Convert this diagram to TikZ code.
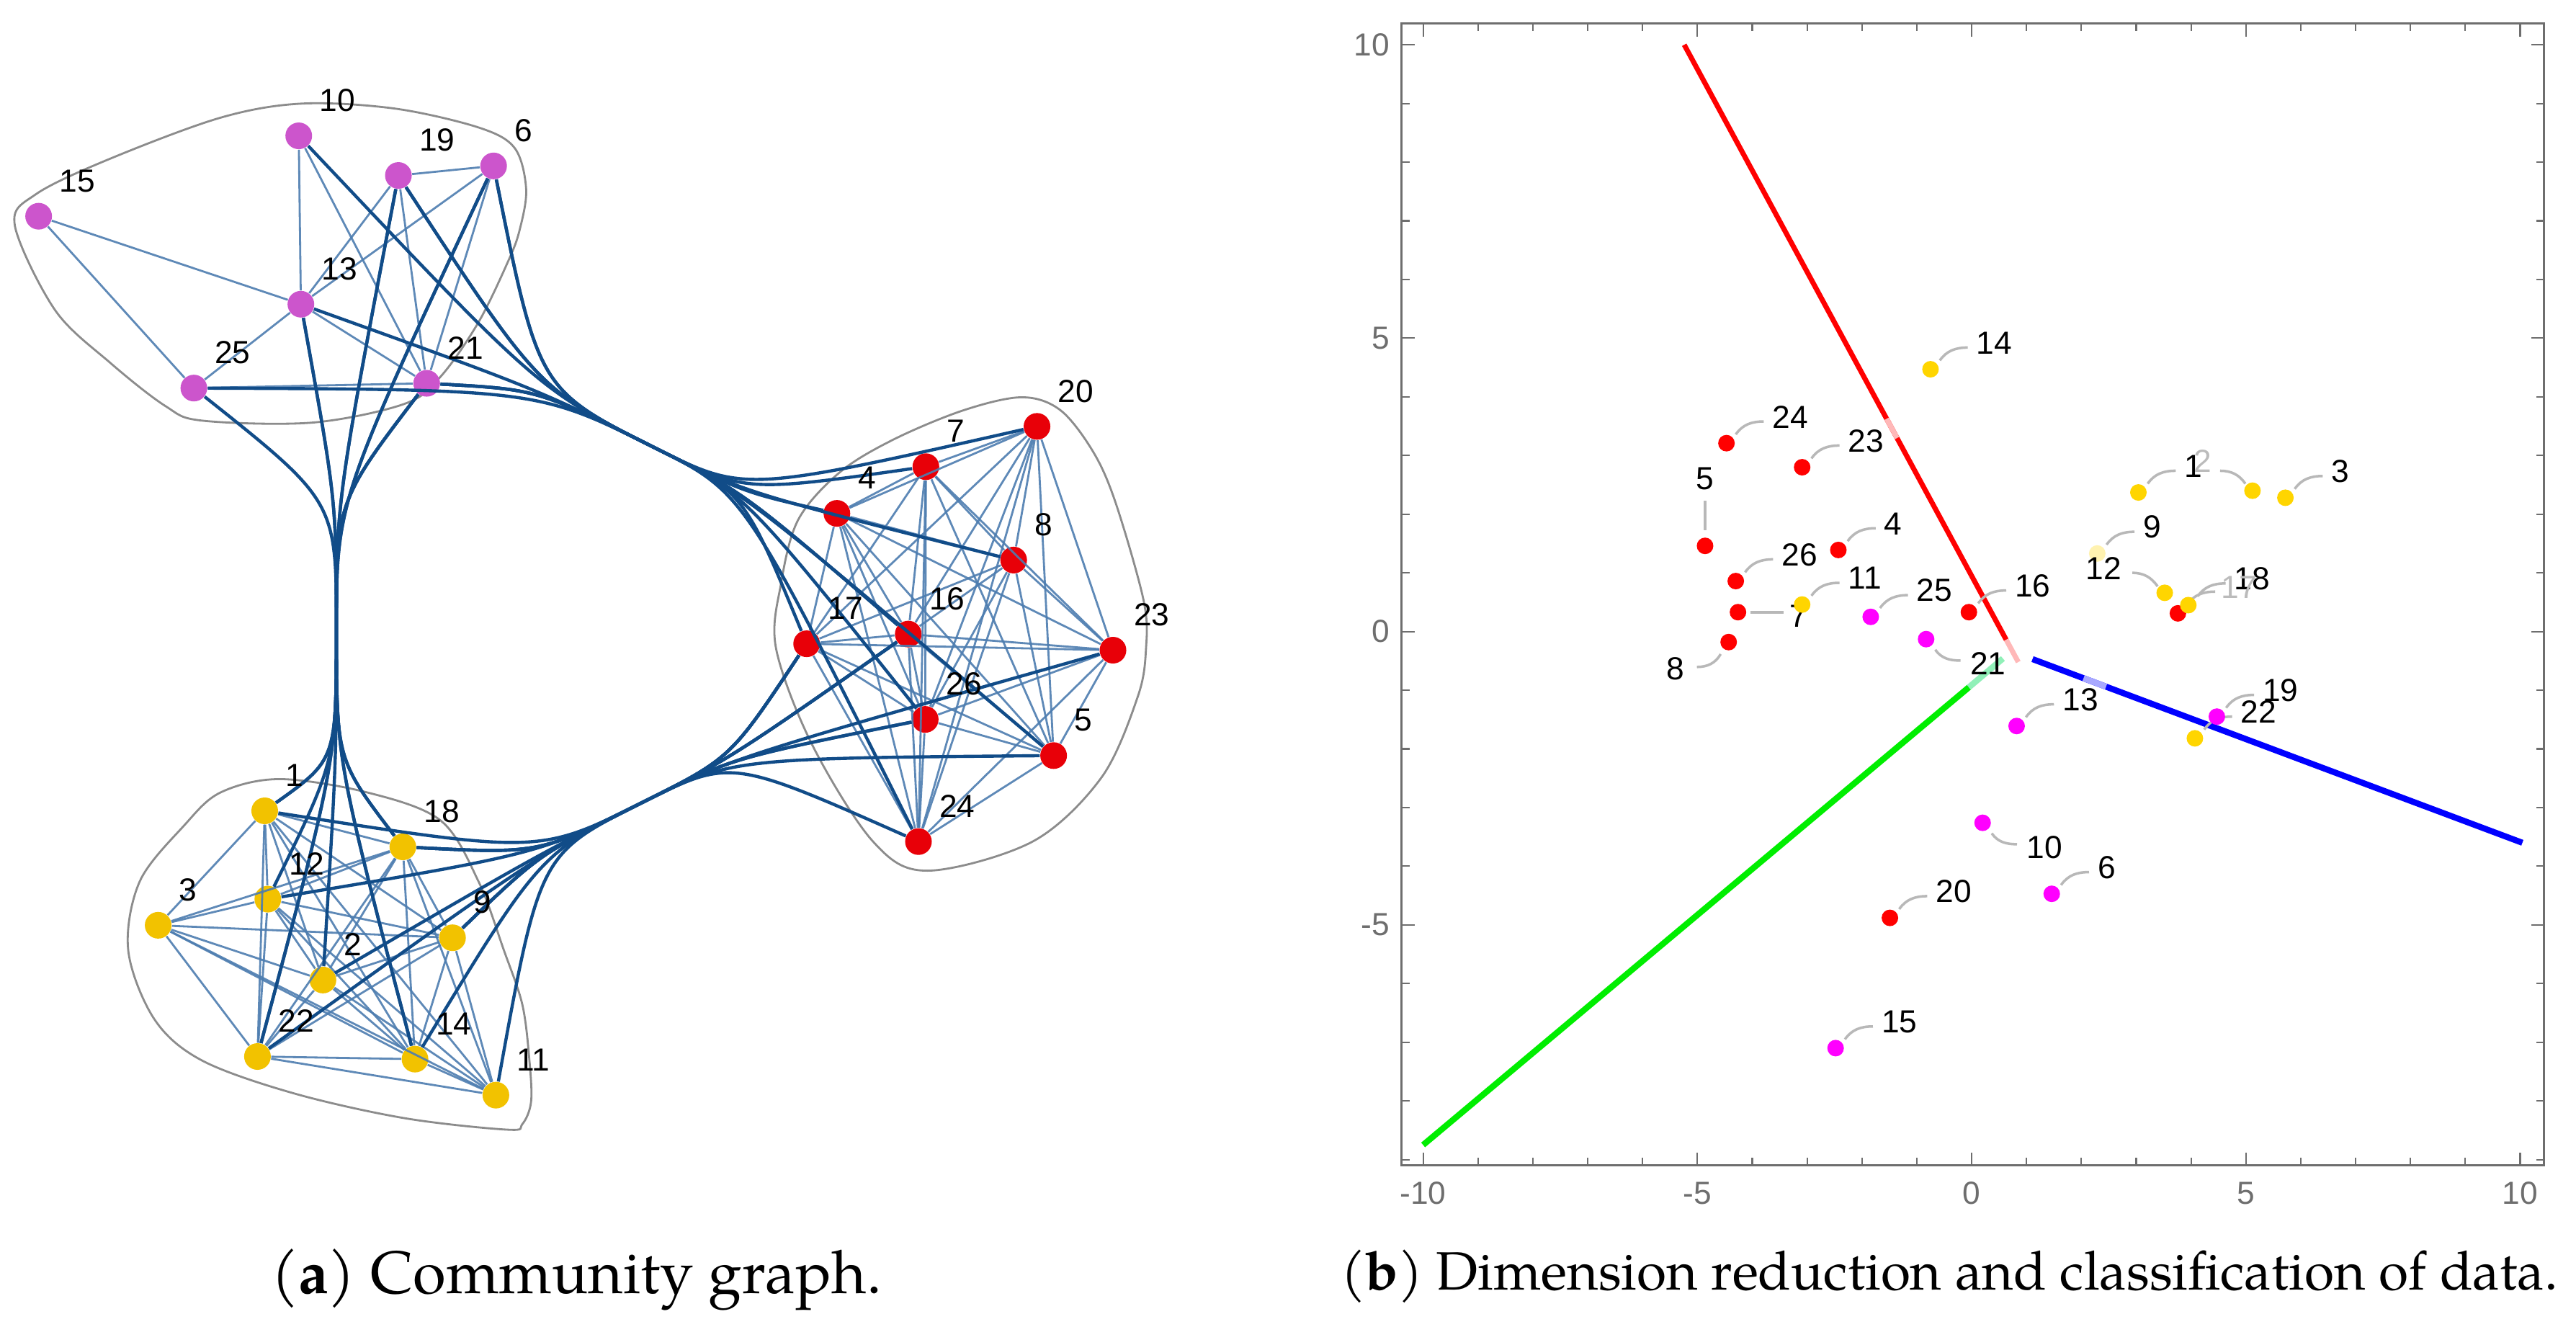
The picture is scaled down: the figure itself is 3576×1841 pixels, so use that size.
\documentclass[tikz,border=0pt]{standalone}
\usepackage{fontspec}
\setmainfont{TeX Gyre Pagella}
\newfontfamily\labfont{Liberation Sans}
\usetikzlibrary{calc}
\definecolor{magA}{HTML}{CC55CC}
\definecolor{redA}{HTML}{E80008}
\definecolor{yelA}{HTML}{F2C200}
\definecolor{edgeIn}{HTML}{4D7DB0}
\definecolor{edgeOut}{HTML}{114C88}
\definecolor{hullC}{HTML}{8C8C8C}
\definecolor{axisC}{HTML}{6E6E6E}
\definecolor{tickC}{HTML}{6E6E6E}
\definecolor{callC}{HTML}{B8B8B8}
\definecolor{ptR}{HTML}{FF0000}
\definecolor{ptM}{HTML}{FF00FF}
\definecolor{ptY}{HTML}{FFD500}
\definecolor{ptPale}{HTML}{FFF2B0}
\definecolor{lnR}{HTML}{FF0000}
\definecolor{lnB}{HTML}{0000FF}
\definecolor{lnG}{HTML}{00EE00}
\definecolor{paleR}{HTML}{FFB8B8}
\definecolor{paleG}{HTML}{90F0B8}
\definecolor{paleB}{HTML}{A8A8FF}
\definecolor{fadeT}{HTML}{BBBBBB}
\begin{document}
\begin{tikzpicture}[x=0.01cm,y=-0.01cm,
  gnode/.style={circle,inner sep=0pt,minimum size=0.37cm,draw=none},
  glab/.style={font=\labfont\fontsize{12.6}{14}\selectfont,inner sep=0pt,anchor=west,xshift=0.285cm,yshift=0.49cm},
  intra/.style={draw=edgeIn,line width=0.8pt,opacity=0.9},
  inter/.style={draw=edgeOut,line width=1.25pt},
  hull/.style={draw=hullC,line width=0.8pt},
  pt/.style={circle,inner sep=0pt,minimum size=0.23cm},
  plab/.style={font=\labfont\fontsize{12.6}{14}\selectfont,inner sep=0pt},
  callout/.style={draw=callC,line width=1pt},
  ticklab/.style={font=\labfont\fontsize{12.6}{14}\selectfont,text=tickC,inner sep=0pt},
  captext/.style={inner sep=0pt,anchor=base}
]
\fill[white] (0,0) rectangle (3576,1841);
\useasboundingbox (0,0) rectangle (3576,1841);

%================ Panel (a) ================
\begin{scope}[x=0.022806cm,y=-0.022806cm]
\draw[hull] plot[smooth cycle,tension=0.55] coordinates {(183.5,63) (240,66) (291,77.5) (313,90) (320,115) (316,140) (309,159) (291,196) (268,229) (246,245.6) (190,257) (123,255.8) (100.7,247) (67,220.6) (33.5,188.6) (9,137) (22,118) (67,96.5) (134,71.6)};
\draw[hull] plot[smooth cycle,tension=0.55] coordinates {(621.5,241.6) (645,249.5) (665,275) (678.6,306) (695.5,365) (697,394.4) (692,423.6) (670,472.7) (628,511.8) (564,529.5) (531,511.8) (494,453) (472,394.4) (475,355) (485.5,316) (511,287) (544,267) (586,249.5)};
\draw[hull] plot[smooth cycle,tension=0.55] coordinates {(170,473.8) (223.7,482) (268,499) (291,536) (306.5,578) (317.7,611) (322,645) (323,670) (317.7,683.6) (308.7,687) (246,680) (179,665) (123,645) (94,620) (78,578) (85,536) (112,502) (134,482)};

\foreach \n/\x/\y in {10/181.7/82.6,19/242.3/106.7,6/300.2/100.9,15/23.5/131.5,13/183/185,25/117.9/236,21/259.5/233.1}
  \node[gnode,fill=magA] (a\n) at (\x,\y) {};
\foreach \n/\x/\y in {20/630.7/259.3,7/563.1/283.8,4/509/312.2,8/616.5/340.6,17/490.6/391.5,16/552.4/385.6,23/676.9/395.4,26/562.7/437.5,5/640.8/459.5,24/558.6/511.8}
  \node[gnode,fill=redA] (a\n) at (\x,\y) {};
\foreach \n/\x/\y in {1/161/493.1,18/245/515,12/162.9/546.8,3/96.2/562.7,9/275.2/570.3,2/196.4/596,22/156.6/642.5,14/252.4/644.1,11/301.6/666}
  \node[gnode,fill=yelA] (a\n) at (\x,\y) {};

% intra-community edges
\foreach \i/\j in {15/13,15/25,10/13,10/21,19/6,19/13,19/21,6/13,6/21,13/25,13/21,25/21}
  \draw[intra] (a\i) -- (a\j);
\foreach \i [count=\k] in {20,7,4,8,17,16,23,26,5,24}{
  \foreach \j [count=\l] in {20,7,4,8,17,16,23,26,5,24}{
    \ifnum\l>\k\relax \draw[intra] (a\i) -- (a\j); \fi
  }}
\foreach \i [count=\k] in {1,18,12,3,9,2,22,14,11}{
  \foreach \j [count=\l] in {1,18,12,3,9,2,22,14,11}{
    \ifnum\l>\k\relax \draw[intra] (a\i) -- (a\j); \fi
  }}

% bundled inter-community edges
\coordinate (wMY) at (204.6,383.7);
\coordinate (cMYt) at (204.6,305);
\coordinate (cMYb) at (204.6,462);
\coordinate (wMR) at (399,272.7);
\coordinate (cMRm) at (327.5,236.9);
\coordinate (cMRr) at (452.6,299.5);
\coordinate (wYR) at (390.7,488);
\coordinate (cYRy) at (328.1,519.3);
\coordinate (cYRr) at (444.3,461.2);
\foreach \i/\j in {25/18,21/18,13/2,13/22,21/22,19/14,6/14,19/1,21/1,6/12}
  \draw[inter] (a\i) .. controls (cMYt) .. (wMY) .. controls (cMYb) .. (a\j);
\foreach \i/\j in {21/7,25/20,21/4,13/8,21/16,10/26,19/17,19/24,6/16,6/5}
  \draw[inter] (a\i) .. controls (cMRm) .. (wMR) .. controls (cMRr) .. (a\j);
\foreach \i/\j in {18/16,18/26,18/23,12/5,9/17,9/16,9/26,2/17,22/17,14/16,11/24,1/17}
  \draw[inter] (a\i) .. controls (cYRy) .. (wYR) .. controls (cYRr) .. (a\j);

\foreach \n in {10,19,6,15,13,25,21,20,7,4,8,17,16,23,26,5,24,1,18,12,3,9,2,22,14,11}
  \node[glab] (la\n) at (a\n.center) {\n};
\end{scope}

%================ Panel (b) ================
\begin{scope}[shift={(2737,876.6)},x=0.761cm,y=0.814cm]
\draw[axisC,line width=0.75pt] (-10.394,-9.1) rectangle (10.434,10.364);
\foreach \t in {-10,-5,0,5,10}{
  \draw[axisC,line width=0.6pt] (\t,-9.1) -- ++(0,0.221);
  \draw[axisC,line width=0.6pt] (\t,10.364) -- ++(0,-0.221);}
\foreach \t in {-9,-8,-7,-6,-4,-3,-2,-1,1,2,3,4,6,7,8,9}{
  \draw[axisC,line width=0.6pt] (\t,-9.1) -- ++(0,0.135);
  \draw[axisC,line width=0.6pt] (\t,10.364) -- ++(0,-0.135);
  \draw[axisC,line width=0.6pt] (-10.394,\t) -- ++(0.1445,0);
  \draw[axisC,line width=0.6pt] (10.434,\t) -- ++(-0.1445,0);}
\foreach \t in {-5,0,5,10}{
  \draw[axisC,line width=0.6pt] (-10.394,\t) -- ++(0.2365,0);
  \draw[axisC,line width=0.6pt] (10.434,\t) -- ++(-0.2365,0);}
\foreach \t [count=\k] in {-10,-5,0,5,10}
  \node[ticklab] (tx\k) at (\t,-9.575) {\t};
\foreach \t [count=\k] in {10,5,0,-5}
  \node[ticklab,anchor=east] (ty\k) at (-10.6,\t) {\t};

% classification lines
\draw[lnR,line width=2pt] (-5.24,10) -- (0.63,-0.14);
\draw[paleR,line width=2pt] (0.63,-0.14) -- (0.85,-0.52);
\draw[paleR,line width=2pt] (-1.55,3.626) -- (-1.36,3.298);
\draw[lnG,line width=2.4pt] (-10,-8.75) -- (-0.05,-0.95);
\draw[paleG,line width=2.4pt] (-0.05,-0.95) -- (0.57,-0.46);
\draw[lnB,line width=2.4pt] (1.11,-0.47) -- (10.04,-3.6);
\draw[paleB,line width=2.4pt] (2.04,-0.796) -- (2.45,-0.94);

% data positions
\foreach \n/\u/\v in {24/-4.47/3.21,23/-3.09/2.80,5/-4.86/1.46,4/-2.43/1.39,26/-4.30/0.86,7/-4.26/0.33,16/-0.05/0.33,8/-4.43/-0.18,17/3.76/0.31,20/-1.49/-4.88,25/-1.84/0.25,21/-0.83/-0.13,13/0.82/-1.61,19/4.47/-1.45,10/0.20/-3.26,6/1.46/-4.47,15/-2.48/-7.10,14/-0.75/4.47,1/3.04/2.37,2/5.12/2.40,3/5.72/2.28,9/2.29/1.33,12/3.52/0.66,18/3.95/0.45,11/-3.09/0.46,22/4.07/-1.82}
  \coordinate (b\n) at (\u,\v);

% callouts
\foreach \n in {24,23,4,26,11,25,16,14,1,3,9,18,17,13,19,22,6,20,15}
  \draw[callout] (b\n) ++(0.17,0.15) to[out=55,in=180] ++(0.51,0.22);
\draw[callout] (b5) ++(0,0.27) -- ++(0,0.50);
\draw[callout] (b7) ++(0.23,0) -- ++(0.60,0);
\draw[callout] (b8) ++(-0.145,-0.204) to[out=-120,in=0] ++(-0.433,-0.22);
\draw[callout] (b21) ++(0.167,-0.18) to[out=-55,in=180] ++(0.46,-0.185);
\draw[callout] (b10) ++(0.167,-0.18) to[out=-55,in=180] ++(0.46,-0.185);
\draw[callout] (b12) ++(-0.13,0.11) to[out=125,in=0] ++(-0.46,0.23);
\draw[callout] (b2) ++(-0.13,0.12) to[out=125,in=0] ++(-0.46,0.22);

\node[plab] (l7) at (b7) [xshift=0.837cm,yshift=-0.057cm] {7};

% points
\foreach \n/\c in {24/ptR,23/ptR,5/ptR,4/ptR,26/ptR,7/ptR,16/ptR,8/ptR,17/ptR,20/ptR,25/ptM,21/ptM,13/ptM,19/ptM,10/ptM,6/ptM,15/ptM,14/ptY,1/ptY,2/ptY,3/ptY,9/ptPale,12/ptY,18/ptY,11/ptY,22/ptY}
  \node[pt,fill=\c] (d\n) at (b\n) {};

% labels
\foreach \n in {24,23,4,26,11,25,16,14,1,3,9,18,13,19,22,6,20,15}
  \node[plab,anchor=west,xshift=0.632cm,yshift=0.366cm] (l\n) at (b\n) {\n};
\node[plab,anchor=west,text=fadeT,xshift=0.594cm,yshift=0.366cm] (l17) at (b17) {17};
\node[plab] (l5) at (b5) [yshift=0.928cm] {5};
\node[plab,anchor=east] (l8) at (b8) [xshift=-0.609cm,yshift=-0.370cm] {8};
\node[plab,anchor=west] (l21) at (b21) [xshift=0.605cm,yshift=-0.342cm] {21};
\node[plab,anchor=west] (l10) at (b10) [xshift=0.605cm,yshift=-0.342cm] {10};
\node[plab,anchor=east] (l12) at (b12) [xshift=-0.594cm,yshift=0.342cm] {12};
\node[plab,text=fadeT] (l2) at (b2) [xshift=-0.692cm,yshift=0.407cm] {2};
\end{scope}

%================ Captions ================
\node[captext,font=\fontsize{23.7}{28}\selectfont] (capa) at (800,1795) {(\textbf{a}) Community graph.};
\node[captext,font=\fontsize{21.3}{26}\selectfont] (capb) at (2706,1790) {(\textbf{b}) Dimension reduction and classification of data.};
\end{tikzpicture}
\end{document}
